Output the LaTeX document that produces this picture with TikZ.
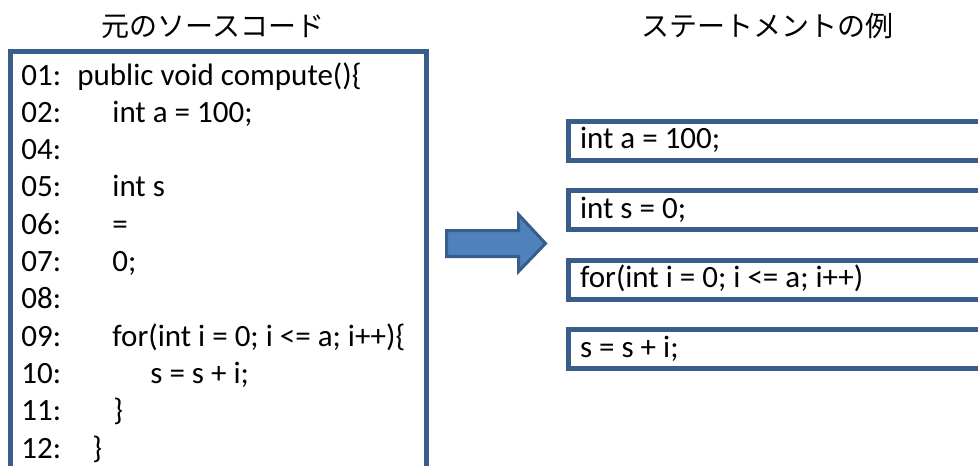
\documentclass[tikz,border=0pt]{standalone}
\usepackage{fontspec}
\setmainfont{Carlito}
\newfontfamily\jpfont{Noto Sans CJK JP}
\usetikzlibrary{positioning}

\definecolor{boxblue}{HTML}{385D8A}
\definecolor{arrowblue}{HTML}{4F81BD}

\tikzset{
  boxframe/.style={draw=boxblue, line width=2.5pt},
  codeline/.style={anchor=base west, inner sep=0pt, font=\fontsize{15.5}{18}\selectfont},
  stmt/.style={boxframe, text width=201.5pt, inner xsep=5.75pt, inner ysep=0pt,
    minimum height=19.5pt, text height=11pt, text depth=3pt, align=flush left,
    font=\fontsize{15.5}{18}\selectfont},
  heading/.style={font=\jpfont\fontsize{14}{17}\selectfont}
}

\begin{document}
\begin{tikzpicture}[x=0.5pt, y=-0.5pt]
    \useasboundingbox (0,0) rectangle (978,465);

    % Titles
    \node[heading] (srctitle) at (213,27) {元のソースコード};
    \node[heading] (stmttitle) at (767,26) {ステートメントの例};

    % Source code frame (runs past the bottom edge)
    \draw[boxframe] (10,51.5) rectangle (426,480);

    % Source code lines
    \foreach \n/\x/\code [count=\i] in {
        01/77/{public void compute()\{},
        02/112/{int a = 100;},
        04/112/{},
        05/112/{int s},
        06/112/{=},
        07/112/{0;},
        08/112/{},
        09/112/{for(int i = 0; i <= a; i++)\{},
        10/150/{s = s + i;},
        11/113/{\}},
        12/92/{\}}}
    {
        \node[codeline] (num\i) at (21,{85+(\i-1)*37.3}) {\n:};
        \node[codeline] (code\i) at (\x,{85+(\i-1)*37.3}) {\code};
    }

    % Arrow
    \draw[draw=boxblue, line width=1.5pt, fill=arrowblue, line join=miter]
        (446.5,230.5) -- (518.5,230.5) -- (518.5,214.5) -- (545.5,243.5)
        -- (518.5,271.5) -- (518.5,256.5) -- (446.5,256.5) -- cycle;

    % Statements (run past the right edge)
    \node[stmt, anchor=west] (s1) at (566,140.5) {int a = 100;};
    \node[stmt, below=12.75pt of s1] (s2) {int s = 0;};
    \node[stmt, below=12.75pt of s2] (s3) {for(int i = 0; i <= a; i++)};
    \node[stmt, below=12.75pt of s3] (s4) {s = s + i;};
\end{tikzpicture}
\end{document}
